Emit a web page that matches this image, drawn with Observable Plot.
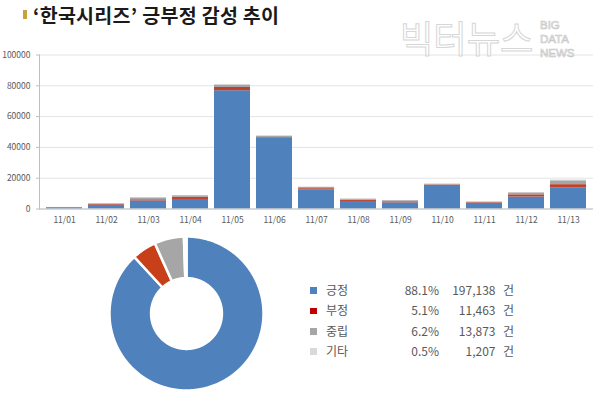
<!DOCTYPE html>
<html>
<head>
<meta charset="utf-8">
<script src="https://cdn.jsdelivr.net/npm/d3@7"></script>
<script src="https://cdn.jsdelivr.net/npm/@observablehq/plot@0.6"></script>
<style>
  html, body { margin: 0; padding: 0; background: #fff; }
  #wrap { position: relative; width: 600px; height: 397px; overflow: hidden; background: #fff;
          font-family: "Malgun Gothic", "Noto Sans CJK KR", sans-serif; }
  .abs { position: absolute; }
  #title { left: 33px; top: 2px; font-size: 19.5px; font-weight: bold; line-height: 26px; color: #1a1a1a; white-space: nowrap; letter-spacing: 0.3px; }
  #goldbar { left: 23px; top: 9.5px; width: 3.5px; height: 9px; background: #c9a13b; }
  #wm1 { left: 400px; top: 14px; font-size: 37px; line-height: 46px; color: rgba(255,255,255,0.6);
         -webkit-text-stroke: 1px #d6d6d6; transform: scaleX(0.98); transform-origin: left top; white-space: nowrap; }
  #wm2 { left: 540px; top: 18px; font-family: "Liberation Sans", sans-serif; font-size: 11.5px; line-height: 14px;
         color: #fff; -webkit-text-stroke: 0.7px #c8c8c8; }
  .leg { font-size: 12px; color: #595959; line-height: 16px; white-space: nowrap; }
  .sq { width: 6.5px; height: 6.5px; }
</style>
</head>
<body>
<div id="wrap">
  <div id="goldbar" class="abs"></div>
  <div id="title" class="abs">‘한국시리즈’ 긍부정 감성 추이</div>
  <div id="bars" class="abs" style="left:0;top:40px;"></div>
  <div id="wm1" class="abs">빅터뉴스</div>
  <div id="wm2" class="abs">BIG<br>DATA<br>NEWS</div>
  <div id="donut" class="abs" style="left:106px;top:233px;"></div>
  <div id="legend"></div>
</div>
<script>
// ---- data ----
const dates = ["11/01","11/02","11/03","11/04","11/05","11/06","11/07","11/08","11/09","11/10","11/11","11/12","11/13"];
const categories = ["긍정","부정","중립","기타"];
const positive = [800, 2500, 5200, 6200, 76800, 46000, 12300, 4900, 4000, 15300, 3700, 7800, 13600];
const negative = [100, 600, 800, 1500, 2100, 400, 900, 800, 700, 300, 400, 1400, 2200];
const neutral  = [100, 300, 1200, 900, 1600, 900, 800, 700, 700, 500, 400, 1300, 2500];
const other    = [0, 100, 100, 100, 400, 200, 300, 200, 100, 100, 50, 200, 500];
const yTicks = [0, 20000, 40000, 60000, 80000, 100000];
const shares = ["88.1%", "5.1%", "6.2%", "0.5%"];
const counts = [197138, 11463, 13873, 1207];
const countLabels = ["197,138", "11,463", "13,873", "1,207"];

const barColors = ["#4f81bd", "#c0402a", "#a6a6a6", "#d9d9d9"];
const donutColors = ["#4f81bd", "#c8401a", "#a6a6a6", "#e3e3e3"];
const legendColors = ["#4f81bd", "#c00000", "#a6a6a6", "#d9d9d9"];

// ---- bar chart ----
const series = [positive, negative, neutral, other];
const rows = [];
dates.forEach((d, i) => categories.forEach((c, k) => rows.push({date: d, cat: c, value: series[k][i]})));

const bar = Plot.plot({
  width: 600, height: 190,
  marginTop: 14.5, marginBottom: 21.5, marginLeft: 39, marginRight: 7,
  style: {fontFamily: "'Malgun Gothic', 'Noto Sans CJK KR', sans-serif", color: "#595959", background: "transparent", overflow: "visible"},
  x: {domain: dates, paddingInner: 0.15, paddingOuter: 0.06, label: null},
  y: {domain: [0, 100000], label: null},
  color: {domain: categories, range: barColors},
  marks: [
    Plot.gridY(yTicks, {stroke: "#e4e4e4", strokeOpacity: 1}),
    Plot.barY(rows, Plot.stackY({x: "date", y: "value", fill: "cat", order: categories})),
    Plot.ruleY([0], {stroke: "#bfbfbf"}),
    Plot.frame({anchor: "left", stroke: "#bfbfbf"}),
    Plot.axisY(yTicks, {tickSize: 3, tickPadding: 6, fontSize: 8.5, stroke: "#bfbfbf", fill: "#595959", tickFormat: d => String(d)}),
    Plot.axisX({tickSize: 0, tickPadding: 8, fontSize: 8.5, fill: "#595959"})
  ]
});
document.getElementById("bars").appendChild(bar);

// ---- donut ----
const pie = d3.pie().sort(null).value(d => d)(counts);
const R = 1, r = 0.46;
const pts = [];
pie.forEach((p, k) => {
  const a0 = p.startAngle, a1 = p.endAngle;
  const n = Math.max(2, Math.ceil((a1 - a0) / 0.01));
  const ring = [];
  for (let j = 0; j <= n; j++) { const a = a0 + (a1 - a0) * j / n; ring.push([R * Math.sin(a), R * Math.cos(a)]); }
  for (let j = n; j >= 0; j--) { const a = a0 + (a1 - a0) * j / n; ring.push([r * Math.sin(a), r * Math.cos(a)]); }
  ring.push(ring[0]);
  ring.forEach(([x, y]) => pts.push({cat: categories[k], x, y}));
});
const lim = 80 / 77;
const donut = Plot.plot({
  width: 160, height: 160, margin: 0,
  style: {background: "transparent", overflow: "visible"},
  x: {domain: [-lim, lim], axis: null},
  y: {domain: [-lim, lim], axis: null},
  color: {domain: categories, range: donutColors},
  marks: [
    Plot.line(pts, {x: "x", y: "y", z: "cat", fill: "cat", stroke: "#fff", strokeWidth: 2.5, strokeLinejoin: "round"})
  ]
});
document.getElementById("donut").appendChild(donut);

// ---- legend ----
const legend = document.getElementById("legend");
categories.forEach((c, i) => {
  const cy = 290.5 + i * 20.4;
  const sq = document.createElement("div");
  sq.className = "abs sq"; sq.style.left = "310px"; sq.style.top = (cy - 3.25) + "px"; sq.style.background = legendColors[i];
  legend.appendChild(sq);
  const add = (text, style) => {
    const el = document.createElement("div");
    el.className = "abs leg"; el.textContent = text; el.style.top = (cy - 8.5) + "px";
    Object.assign(el.style, style); legend.appendChild(el);
  };
  add(c, {left: "326px"});
  add(shares[i], {right: (600 - 439) + "px", textAlign: "right"});
  add(countLabels[i], {right: (600 - 495.5) + "px", textAlign: "right"});
  add("건", {left: "503px"});
});
</script>
</body>
</html>
